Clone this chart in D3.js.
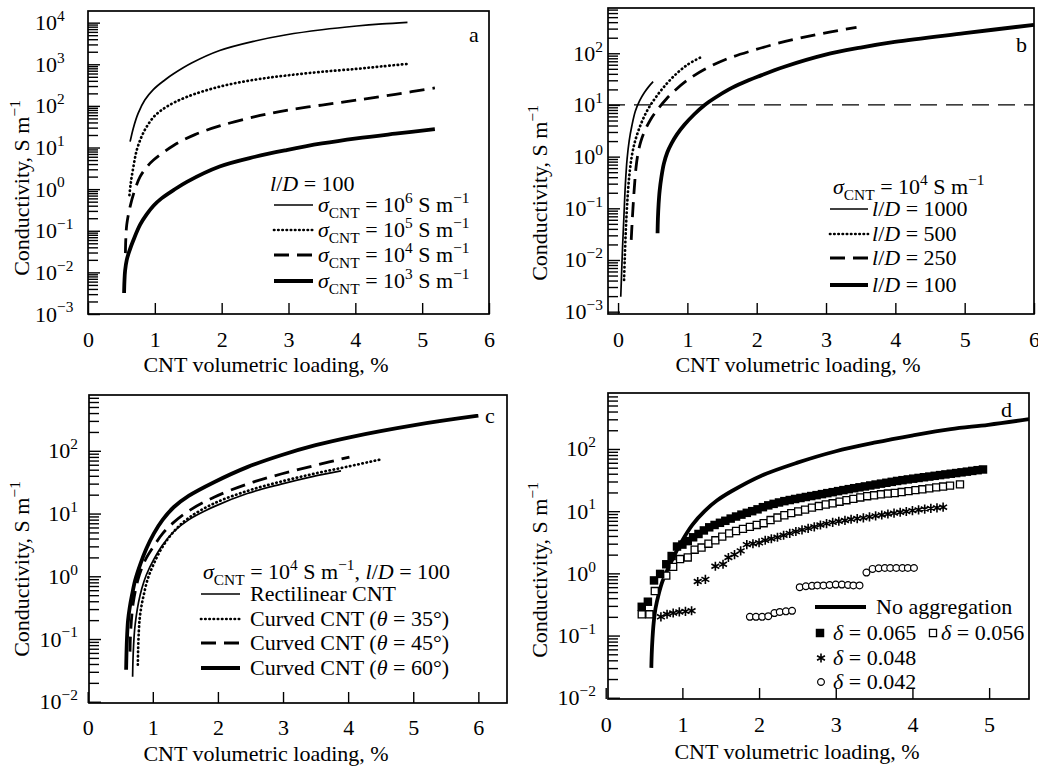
<!DOCTYPE html>
<html>
<head>
<meta charset="utf-8">
<script src="https://cdn.jsdelivr.net/npm/d3@7"></script>
<style>
  body { margin: 0; background: #fff; }
  svg { font-family: "Liberation Serif", "Times New Roman", serif; }
</style>
</head>
<body>
<svg id="fig" width="1038" height="769"></svg>
<script>
// ---- panel a : l/D = 100, different sigma_CNT ----
var aLoad6 = [0.63, 0.68, 0.75, 0.85, 0.98, 1.15, 1.28, 1.55, 1.97, 2.5, 2.97, 3.5, 4.02, 4.4, 4.78];
var aCond6 = [13.8, 30, 66, 138, 250, 420, 590, 1070, 2140, 3630, 5130, 6760, 8300, 9330, 10200];
var aLoad5 = [0.62, 0.64, 0.68, 0.73, 0.8, 0.88, 1.0, 1.18, 1.48, 1.97, 2.5, 2.97, 3.5, 4.02, 4.4, 4.78];
var aCond5 = [0.72, 1.4, 3.5, 8.7, 18, 32, 58, 96, 165, 290, 427, 537, 660, 776, 890, 1020];
var aLoad4 = [0.56, 0.565, 0.58, 0.63, 0.7, 0.78, 0.88, 0.98, 1.28, 1.6, 1.97, 2.5, 2.97, 3.5, 4.02, 4.6, 5.19];
var aCond4 = [0.029, 0.06, 0.14, 0.38, 0.95, 2, 3.4, 5, 11.2, 20.4, 33, 55, 78, 105, 138, 190, 270];
var aLoad3 = [0.54, 0.545, 0.555, 0.58, 0.62, 0.68, 0.78, 0.88, 0.98, 1.1, 1.28, 1.48, 1.97, 2.5, 2.97, 3.5, 4.02, 4.6, 5.19];
var aCond3 = [0.0032, 0.006, 0.011, 0.02, 0.033, 0.06, 0.14, 0.25, 0.40, 0.60, 0.95, 1.5, 3.5, 6, 8.7, 12.5, 16.6, 21.5, 27.5];

// ---- panel b : sigma_CNT = 1e4, different l/D ----
var bLoad1000 = [0.039, 0.05, 0.065, 0.085, 0.105, 0.13, 0.16, 0.2, 0.25, 0.31, 0.38, 0.44, 0.506];
var bCond1000 = [0.00195, 0.005, 0.0178, 0.0708, 0.282, 0.89, 2.0, 4.0, 7.6, 12.0, 17.4, 22.4, 28.2];
var bLoad500 = [0.087, 0.096, 0.11, 0.13, 0.16, 0.2, 0.25, 0.33, 0.42, 0.53, 0.65, 0.8, 1.0, 1.206];
var bCond500 = [0.0041, 0.01, 0.0316, 0.112, 0.398, 1.05, 2.09, 4.27, 7.76, 13.2, 21.4, 35.5, 60, 85];
var bLoad250 = [0.19, 0.2, 0.215, 0.235, 0.26, 0.29, 0.33, 0.386, 0.47, 0.58, 0.7, 0.82, 1.0, 1.25, 1.55, 1.93, 2.3, 2.65, 3.05, 3.44];
var bCond250 = [0.0245, 0.0447, 0.1, 0.251, 0.631, 1.2, 2.0, 3.16, 5.25, 8.5, 13.2, 19.1, 30.2, 49, 75.9, 112, 155, 200, 257, 316];
var bLoad100 = [0.57, 0.575, 0.585, 0.6, 0.625, 0.66, 0.71, 0.77, 0.85, 0.96, 1.1, 1.25, 1.4, 1.6, 1.8, 2.02, 2.4, 2.98, 3.5, 3.99, 5.0, 6.0];
var bCond100 = [0.033, 0.063, 0.12, 0.219, 0.398, 0.724, 1.2, 1.78, 2.69, 4.17, 6.61, 10, 13.8, 20, 26.9, 35.5, 55, 93.3, 129, 166, 245, 355];
var bThreshold = 10;

// ---- panel c : rectilinear vs curved CNT ----
var cLoadRect = [0.69, 0.695, 0.705, 0.72, 0.745, 0.78, 0.83, 0.9, 1.015, 1.15, 1.32, 1.55, 1.94, 2.45, 2.97, 3.45, 3.89];
var cCondRect = [0.0251, 0.0447, 0.0794, 0.138, 0.229, 0.38, 0.631, 1.05, 1.86, 3.16, 5.13, 7.94, 12.9, 20.9, 29.5, 38.9, 47.9];
var cLoad35 = [0.77, 0.775, 0.785, 0.8, 0.825, 0.86, 0.92, 1.015, 1.15, 1.32, 1.55, 1.94, 2.45, 2.97, 3.5, 4.0, 4.53];
var cCond35 = [0.0389, 0.0708, 0.132, 0.219, 0.331, 0.5, 0.891, 1.58, 2.95, 5.13, 8.51, 14.5, 22.9, 32.4, 43.7, 56.2, 74.1];
var cLoad45 = [0.65, 0.655, 0.665, 0.68, 0.7, 0.73, 0.77, 0.82, 0.9, 1.015, 1.15, 1.32, 1.55, 1.94, 2.45, 2.97, 3.5, 4.02];
var cCond45 = [0.063, 0.1, 0.158, 0.251, 0.38, 0.575, 0.871, 1.26, 1.95, 3.02, 4.79, 7.24, 11, 18.2, 29.5, 42.7, 58.9, 79.4];
var cLoad60 = [0.59, 0.595, 0.605, 0.62, 0.645, 0.68, 0.73, 0.81, 0.9, 1.015, 1.15, 1.32, 1.55, 1.94, 2.45, 2.97, 3.5, 4.04, 5.02, 6.0];
var cCond60 = [0.0324, 0.0562, 0.112, 0.2, 0.316, 0.5, 0.871, 1.58, 2.75, 4.79, 7.94, 12.6, 19.1, 31.6, 55, 85.1, 123, 166, 257, 363];

// ---- panel d : aggregation ----
var dLoadNoAgg = [0.595, 0.6, 0.61, 0.625, 0.65, 0.69, 0.74, 0.81, 0.9, 0.99, 1.13, 1.29, 1.45, 1.64, 2.03, 2.5, 2.99, 3.5, 4.01, 4.5, 4.99, 5.52];
var dCondNoAgg = [0.0302, 0.0501, 0.0891, 0.158, 0.275, 0.457, 0.741, 1.17, 2.0, 3.24, 6.03, 10, 14.8, 20.9, 37.2, 60.3, 91.2, 126, 166, 209, 245, 302];
var dLoad065 = [0.47, 0.55, 0.63, 0.71, 0.79, 0.86, 0.93, 1.00, 1.07, 1.14, 1.21, 1.28, 1.35, 1.42, 1.49, 1.56, 1.63, 1.70, 1.77, 1.84, 1.91, 1.98, 2.05, 2.12, 2.19, 2.26, 2.33, 2.40, 2.47, 2.54, 2.61, 2.68, 2.75, 2.82, 2.89, 2.96, 3.03, 3.10, 3.17, 3.24, 3.31, 3.38, 3.45, 3.52, 3.59, 3.66, 3.73, 3.80, 3.87, 3.94, 4.01, 4.08, 4.15, 4.22, 4.29, 4.36, 4.43, 4.50, 4.57, 4.64, 4.71, 4.78, 4.85, 4.92];
var dCond065 = [0.29, 0.35, 0.77, 0.98, 1.4, 1.9, 2.7, 2.9, 3.3, 3.8, 4.3, 4.9, 5.5, 6.0, 6.5, 7.0, 7.6, 8.2, 8.8, 9.4, 10.0, 10.7, 11.6, 12.4, 13.1, 13.8, 14.5, 15.1, 15.7, 16.3, 16.9, 17.5, 18.1, 18.8, 19.5, 20.2, 21.0, 21.8, 22.6, 23.4, 24.2, 25.0, 25.9, 26.8, 27.7, 28.6, 29.6, 30.6, 31.5, 32.4, 33.3, 34.2, 35.1, 36.0, 37.0, 38.0, 39.0, 40.0, 41.0, 42.1, 43.2, 44.4, 45.6, 46.8];
var dLoad056 = [0.47, 0.57, 0.64, 0.79, 0.88, 0.97, 1.07, 1.16, 1.25, 1.34, 1.43, 1.52, 1.61, 1.70, 1.79, 1.88, 1.97, 2.06, 2.15, 2.24, 2.33, 2.42, 2.51, 2.60, 2.69, 2.78, 2.87, 2.96, 3.05, 3.14, 3.23, 3.32, 3.41, 3.50, 3.59, 3.68, 3.77, 3.86, 3.95, 4.04, 4.13, 4.22, 4.31, 4.40, 4.49, 4.62];
var dCond056 = [0.22, 0.22, 0.52, 0.92, 1.27, 1.7, 1.8, 2.4, 2.6, 3.0, 3.4, 3.9, 4.4, 4.8, 5.2, 5.6, 6.0, 6.4, 7.2, 7.9, 8.6, 9.3, 9.9, 10.6, 11.4, 12.1, 12.8, 13.4, 14.2, 15.0, 15.8, 16.6, 17.4, 18.0, 18.7, 19.2, 19.6, 20.3, 21.0, 21.8, 22.5, 23.3, 24.1, 24.9, 25.7, 27.0];
var dLoad048 = [0.72, 0.80, 0.88, 0.96, 1.04, 1.12, 1.20, 1.30, 1.43, 1.53, 1.60, 1.68, 1.76, 1.84, 1.92, 2.00, 2.08, 2.16, 2.24, 2.32, 2.40, 2.48, 2.56, 2.64, 2.72, 2.80, 2.88, 2.96, 3.04, 3.12, 3.20, 3.28, 3.36, 3.44, 3.52, 3.60, 3.68, 3.76, 3.84, 3.92, 4.00, 4.08, 4.16, 4.24, 4.32, 4.40];
var dCond048 = [0.20, 0.22, 0.23, 0.24, 0.245, 0.25, 0.74, 0.80, 1.3, 1.4, 1.8, 2.0, 2.3, 2.9, 3.0, 3.1, 3.4, 3.6, 3.8, 4.1, 4.4, 4.7, 5.0, 5.3, 5.6, 6.0, 6.3, 6.6, 6.9, 7.1, 7.4, 7.6, 7.8, 8.1, 8.4, 8.7, 9.0, 9.3, 9.6, 9.9, 10.2, 10.5, 10.8, 11.1, 11.3, 11.6];
var dLoad042 = [1.88, 1.96, 2.04, 2.12, 2.20, 2.27, 2.35, 2.43, 2.53, 2.61, 2.69, 2.76, 2.84, 2.92, 3.00, 3.08, 3.16, 3.23, 3.31, 3.40, 3.48, 3.56, 3.64, 3.71, 3.79, 3.87, 3.94, 4.02];
var dCond042 = [0.20, 0.20, 0.20, 0.205, 0.23, 0.24, 0.245, 0.25, 0.60, 0.62, 0.63, 0.64, 0.64, 0.65, 0.66, 0.66, 0.65, 0.64, 0.64, 1.03, 1.18, 1.21, 1.22, 1.22, 1.22, 1.22, 1.22, 1.22];

var xTicksA = [0, 1, 2, 3, 4, 5, 6];
var xTicksB = [0, 1, 2, 3, 4, 5, 6];
var xTicksC = [0, 1, 2, 3, 4, 5, 6];
var xTicksD = [0, 1, 2, 3, 4, 5];
var decadesA = [-3, -2, -1, 0, 1, 2, 3, 4];
var decadesB = [-3, -2, -1, 0, 1, 2];
var decadesC = [-2, -1, 0, 1, 2];
var decadesD = [-2, -1, 0, 1, 2];

var svg = d3.select("#fig");
svg.append("rect").attr("width", 1038).attr("height", 769).attr("fill", "#fff");

var styles = {
  thin:   { w: 1.7, dash: null, cap: "butt" },
  dotted: { w: 2.7, dash: "0.4,3.8", cap: "round" },
  dashed: { w: 2.8, dash: "15,8", cap: "butt" },
  thick:  { w: 3.8, dash: null, cap: "butt" }
};

// text with italic / sub / superscript parts
function rich(parent, x, y, parts, size, anchor) {
  var t = parent.append("text").attr("x", x).attr("y", y)
    .attr("font-size", size).attr("text-anchor", anchor || "start");
  var cur = 0;
  parts.forEach(function(p) {
    var k = p[1] || "";
    var off = k.indexOf("_") >= 0 ? size * 0.28 : (k.indexOf("^") >= 0 ? -size * 0.42 : 0);
    var ts = t.append("tspan").attr("dy", (off - cur).toFixed(2)).text(p[0]);
    if (off !== 0) ts.attr("font-size", (size * 0.7).toFixed(1));
    if (k.indexOf("i") >= 0) ts.attr("font-style", "italic");
    cur = off;
  });
  return t;
}

function styled(sel, s) {
  sel.attr("fill", "none").attr("stroke", "#000")
    .attr("stroke-width", s.w).attr("stroke-linecap", s.cap);
  if (s.dash) sel.attr("stroke-dasharray", s.dash);
  return sel;
}

function zip(xs, ys) { return xs.map(function(v, i) { return [v, ys[i]]; }); }

function panel(cfg) {
  var g = svg.append("g");
  var x = d3.scaleLinear().domain(cfg.xd).range(cfg.xr);
  var y = d3.scaleLog().domain(cfg.yd).range(cfg.yr);

  var minor = [], major = [];
  for (var e = -4; e <= 4; e++) {
    for (var n = 1; n < 10; n++) {
      var v = +(n * Math.pow(10, e)).toPrecision(6);
      if (v >= cfg.yd[0] * 0.999 && v <= cfg.yd[1]) (n === 1 ? major : minor).push(v);
    }
  }
  var ay1 = g.append("g").attr("transform", "translate(" + cfg.xr[0] + ",0)")
    .call(d3.axisRight(y).tickValues(minor).tickSize(10).tickFormat(""));
  var ay2 = g.append("g").attr("transform", "translate(" + cfg.xr[0] + ",0)")
    .call(d3.axisRight(y).tickValues(major).tickSize(12).tickFormat(""));
  var ax = g.append("g").attr("transform", "translate(0," + cfg.yr[0] + ")")
    .call(d3.axisBottom(x).tickValues(cfg.xt).tickSizeInner(-11).tickSizeOuter(0)
      .tickPadding(cfg.xpad).tickFormat(d3.format("d")));
  [ay1, ay2, ax].forEach(function(a) {
    a.select(".domain").remove();
    a.selectAll("line").attr("stroke", "#000").attr("stroke-width", 1.4);
  });
  ax.attr("font-size", 22).attr("font-family", null);
  ax.selectAll("text").attr("fill", "#000");

  g.append("rect").attr("x", cfg.xr[0]).attr("y", cfg.yr[1])
    .attr("width", cfg.xr[1] - cfg.xr[0]).attr("height", cfg.yr[0] - cfg.yr[1])
    .attr("fill", "none").attr("stroke", "#000").attr("stroke-width", 1.7);

  cfg.dec.forEach(function(e) {
    rich(g, cfg.ylx, y(Math.pow(10, e)) + 7.5,
      [["10"], [e < 0 ? "\u2212" + (-e) : "" + e, "^"]], 22, cfg.yanchor);
  });

  var ty = g.append("g").attr("transform", "translate(" + cfg.ytx + "," + cfg.yty + ") rotate(-90)");
  rich(ty, 0, 0, [["Conductivity, S m"], ["\u22121", "^"]], 22, "middle");
  g.append("text").attr("x", cfg.xtx).attr("y", cfg.xty).attr("font-size", 22)
    .attr("text-anchor", "middle").text("CNT volumetric loading, %");
  g.append("text").attr("x", cfg.lab[0]).attr("y", cfg.lab[1]).attr("font-size", 22).text(cfg.letter);

  var line = d3.line().x(function(d) { return x(d[0]); }).y(function(d) { return y(d[1]); })
    .curve(d3.curveCatmullRom.alpha(0.5));
  (cfg.curves || []).forEach(function(c) {
    styled(g.append("path").attr("d", line(zip(c[0], c[1]))), styles[c[2]]);
  });
  return { g: g, x: x, y: y };
}

function legendLine(g, x1, x2, yy, s) {
  styled(g.append("line").attr("x1", x1).attr("x2", x2).attr("y1", yy).attr("y2", yy), styles[s]);
}

function sigma(pow) {
  return [["\u03c3", "i"], ["CNT", "_"], [" = 10"], [pow, "^"], [" S m"], ["\u22121", "^"]];
}

// ---------- a ----------
var pa = panel({
  xd: [0, 6], xr: [88, 489], yd: [Math.pow(10, -3), Math.pow(10, 4.28)], yr: [314, 11],
  xt: xTicksA, xpad: 17, dec: decadesA, ylx: 35, yanchor: "start",
  ytx: 29, yty: 188, xtx: 266, xty: 372, lab: [469, 42], letter: "a",
  curves: [[aLoad6, aCond6, "thin"], [aLoad5, aCond5, "dotted"], [aLoad4, aCond4, "dashed"], [aLoad3, aCond3, "thick"]]
});
rich(pa.g, 270, 191, [["l", "i"], ["/"], ["D", "i"], [" = 100"]], 22);
[["6", "thin", 205], ["5", "dotted", 230], ["4", "dashed", 255], ["3", "thick", 281]].forEach(function(r) {
  legendLine(pa.g, 274, 313, r[2], r[1]);
  rich(pa.g, 318, r[2] + 7, sigma(r[0]), 22);
});

// ---------- b ----------
var pb = panel({
  xd: [-0.145, 6], xr: [608, 1034], yd: [Math.pow(10, -3.045), Math.pow(10, 2.876)], yr: [314, 8],
  xt: xTicksB, xpad: 17, dec: decadesB, ylx: 603, yanchor: "end",
  ytx: 547, yty: 193, xtx: 798, xty: 372, lab: [1016, 52], letter: "b",
  curves: [[bLoad1000, bCond1000, "thin"], [bLoad500, bCond500, "dotted"], [bLoad250, bCond250, "dashed"], [bLoad100, bCond100, "thick"]]
});
pb.g.append("line").attr("x1", 608).attr("x2", 1034)
  .attr("y1", pb.y(bThreshold)).attr("y2", pb.y(bThreshold))
  .attr("stroke", "#000").attr("stroke-width", 1.2).attr("stroke-dasharray", "17,9");
rich(pb.g, 833, 194, sigma("4"), 22);
[["1000", "thin", 209], ["500", "dotted", 234], ["250", "dashed", 258], ["100", "thick", 285]].forEach(function(r) {
  legendLine(pb.g, 830, 868, r[2], r[1]);
  rich(pb.g, 872, r[2] + 7, [["l", "i"], ["/"], ["D", "i"], [" = " + r[0]]], 22);
});

// ---------- c ----------
var pc = panel({
  xd: [0.02, 6.44], xr: [89, 507], yd: [Math.pow(10, -2.02), Math.pow(10, 2.89)], yr: [703, 395],
  xt: xTicksC, xpad: 16, dec: decadesC, ylx: 78, yanchor: "end",
  ytx: 29, yty: 569, xtx: 266, xty: 761, lab: [485, 423], letter: "c",
  curves: [[cLoadRect, cCondRect, "thin"], [cLoad35, cCond35, "dotted"], [cLoad45, cCond45, "dashed"], [cLoad60, cCond60, "thick"]]
});
rich(pc.g, 203, 579, sigma("4").concat([[", "], ["l", "i"], ["/"], ["D", "i"], [" = 100"]]), 22);
[["Rectilinear CNT", "thin", 594], ["35", "dotted", 619], ["45", "dashed", 643], ["60", "thick", 668]].forEach(function(r, i) {
  legendLine(pc.g, 201, 240, r[2], r[1]);
  var parts = i === 0 ? [[r[0]]] : [["Curved CNT ("], ["\u03b8", "i"], [" = " + r[0] + "\u00b0)"]];
  rich(pc.g, 250, r[2] + 7, parts, 22);
});

// ---------- d ----------
var pd = panel({
  xd: [0.03, 5.52], xr: [608, 1029], yd: [Math.pow(10, -2.02), Math.pow(10, 2.9)], yr: [699, 393],
  xt: xTicksD, xpad: 17, dec: decadesD, ylx: 596, yanchor: "end",
  ytx: 547, yty: 570, xtx: 797, xty: 759, lab: [1001, 417], letter: "d",
  curves: [[dLoadNoAgg, dCondNoAgg, "thick"]]
});

function markers(g, xs, ys, kind, sx, sy) {
  var pts = zip(xs, ys);
  var sel = g.append("g").selectAll("path").data(pts).enter().append("path")
    .attr("transform", function(d) { return "translate(" + sx(d[0]) + "," + sy(d[1]) + ")"; });
  markStyle(sel, kind);
}
function markStyle(sel, kind) {
  if (kind === "fill") sel.attr("d", d3.symbol(d3.symbolSquare, 72)).attr("fill", "#000");
  if (kind === "open") sel.attr("d", d3.symbol(d3.symbolSquare, 50)).attr("fill", "#fff").attr("stroke", "#000").attr("stroke-width", 1.3);
  if (kind === "star") sel.attr("d", d3.symbol(d3.symbolAsterisk, 58)).attr("fill", "none").attr("stroke", "#000").attr("stroke-width", 1.6);
  if (kind === "circ") sel.attr("d", d3.symbol(d3.symbolCircle, 36)).attr("fill", "#fff").attr("stroke", "#000").attr("stroke-width", 1.2);
}
markers(pd.g, dLoad042, dCond042, "circ", pd.x, pd.y);
markers(pd.g, dLoad048, dCond048, "star", pd.x, pd.y);
markers(pd.g, dLoad056, dCond056, "open", pd.x, pd.y);
markers(pd.g, dLoad065, dCond065, "fill", pd.x, pd.y);

legendLine(pd.g, 815, 866, 607, "thick");
pd.g.append("text").attr("x", 876).attr("y", 614).attr("font-size", 22).text("No aggregation");
[["fill", 820, 633, 833, "0.065"], ["open", 933, 633, 941, "0.056"], ["star", 821, 658, 833, "0.048"], ["circ", 821, 682, 833, "0.042"]].forEach(function(r) {
  markStyle(pd.g.append("path").attr("transform", "translate(" + r[1] + "," + r[2] + ")"), r[0]);
  rich(pd.g, r[3], r[2] + 7, [["\u03b4", "i"], [" = " + r[4]]], 22);
});
</script>
</body>
</html>
